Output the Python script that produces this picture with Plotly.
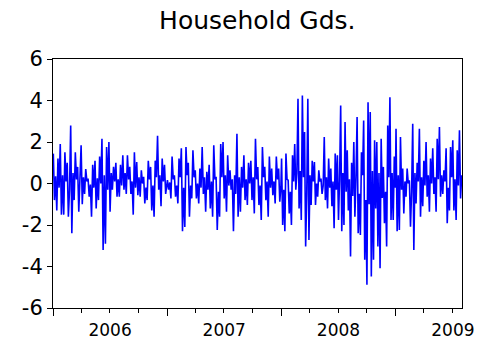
import pandas as pd
import plotly.graph_objects as go

title = "Household Gds."

y2006 = [
    1.44, -0.80, 0.35, -1.30, 1.20, -0.20, 1.90, -1.50, 0.40, -1.50, 1.50, 0.10,
    1.00, -1.60, -0.30, 2.80, -2.40, 0.50, -0.80, 1.50, 0.20, 0.80, -1.36, -0.10,
    1.84, -1.00, 0.30, -0.50, 0.70, 0.10, 0.24, -0.64, -0.05, -1.60, 0.90, -0.20,
    1.10, -1.20, 0.25, -0.80, 1.30, 0.00, 2.16, -3.20, 0.40, -2.90, 1.76, -0.30,
    2.00, -1.36, 0.50, -0.30, 0.80, 0.10, 1.00, -0.64, 0.20, -0.64, 0.90, -0.10,
    1.36, -0.30, 0.50, -0.50, 1.36, 0.20, 0.80, -0.50, 0.10, -1.50, 1.50, -0.20,
    1.04, -0.56, 0.30, -0.64, 0.64, 0.00, 0.32, -0.96, -0.20, -0.80, 1.10, 0.20,
    0.80, -1.30, -0.10, -1.60, 1.10, 0.30, 2.30, -0.30, 0.40, -1.10, 1.20, 0.10,
    0.90, -0.50, 0.00,
]

y2007 = [
    0.16, -0.30, 0.05, -0.72, 1.30, 0.20, 0.40, -0.64, -0.10, -0.96, 1.20, 0.30,
    1.70, -2.30, -0.20, -2.10, 1.76, 0.40, 1.00, -1.60, -0.10, -0.72, 1.60, 0.30,
    0.64, -0.72, 0.00, -0.96, 0.72, -0.20, 1.76, -0.50, 0.30, -1.36, 0.56, -0.30,
    0.90, -1.20, 0.10, -1.60, 1.84, 0.20, 0.32, -2.24, -0.40, -1.60, 1.90, 0.30,
    2.00, -0.72, 0.40, -1.36, 1.36, -0.10, 0.64, -0.30, 0.20, -2.30, 0.40, -0.50,
    2.40, -1.60, 0.30, -1.36, 0.80, -0.20, 1.36, -0.80, 0.20, -1.04, 1.00, 0.00,
    1.10, -0.80, 0.30, -1.44, 2.16, 0.20, 0.80, -1.04, -0.10, -1.76, 1.76, 0.30,
    0.80, -0.80, 0.10, -1.60, 1.30, -0.20, 0.72, -0.56, 0.10, -0.96, 1.30, 0.20,
    0.72, -0.88, -0.10,
]

y2008 = [
    1.20, -2.00, -0.30, -2.30, 1.44, 0.20, 0.16, -1.44, -0.40, -2.00, 1.36, 0.10,
    1.90, -0.30, 0.50, 4.08, -1.20, 0.60, -1.76, 4.24, 0.30, 2.48, -3.04, -0.50,
    4.08, -2.72, 0.40, -1.04, 1.10, 0.10, 1.04, -1.04, 0.00, -0.64, 0.64, 0.10,
    0.24, -0.50, -0.10, 2.24, -0.80, 0.30, -1.20, 1.20, -0.20, 0.72, -1.10, 0.10,
    -2.16, 1.44, -0.30, 1.36, -1.76, 0.20, 3.76, -2.30, 0.50, -2.00, 2.96, -0.40,
    1.60, -1.30, 0.20, -3.52, 1.00, -0.60, 2.00, -1.60, 0.30, 3.20, -2.40, -0.50,
    -2.48, 1.50, 0.40, 3.04, -3.68, -0.80, -4.88, 3.92, -1.00, 3.44, -4.48, 0.60,
    -3.68, 2.08, -1.20, 2.00, -3.04, 0.50, -4.08, 2.16, -0.70, 0.80, -1.92, -0.40,
    -3.04, 2.80, 0.30, 4.16, -1.76, 0.50, -1.76, 1.30, -0.20,
]

y2009 = [
    2.64, -2.30, 0.40, -2.24, 2.24, -0.30, 0.72, -1.44, 0.10, -0.64, 0.72, 0.00,
    0.16, -2.08, -0.40, 2.88, -3.20, 0.50, -0.96, 1.00, 0.10, 2.64, -1.60, 0.30,
    -1.10, 1.10, -0.10, 2.00, -0.64, 0.40, -1.36, 1.20, 0.00, 1.70, -0.50, 0.30,
    -1.36, 2.16, 0.20, 2.72, -0.64, 0.40, -0.50, 0.64, 0.10, 1.70, -1.92, -0.20,
    -1.30, 1.76, 0.30, 2.08, -1.30, 0.20, -1.76, 1.60, -0.10, 2.56, -0.72, 0.40,
]

year_spans = [
    ("2006-01-02", "2006-12-31", y2006),
    ("2007-01-02", "2007-12-31", y2007),
    ("2008-01-02", "2008-12-31", y2008),
    ("2009-01-02", "2009-07-31", y2009),
]

y_ticks = [-6, -4, -2, 0, 2, 4, 6]
y_ticktext = ["-6", "-4", "-2", "0", "2", "4", "6"]

dates = []
values = []
for start, end, vals in year_spans:
    dates.extend(pd.date_range(start, end, periods=len(vals)))
    values.extend(vals)

fig = go.Figure()
fig.add_trace(go.Scatter(
    x=dates, y=values, mode="lines",
    line=dict(color="#0000ff", width=1.6),
    showlegend=False, hoverinfo="skip",
))

fig.update_layout(
    width=481, height=341,
    margin=dict(l=53, r=19, t=59, b=33),
    paper_bgcolor="white", plot_bgcolor="white",
    font=dict(family="DejaVu Sans", color="black"),
    title=dict(text=title, x=0.535, xanchor="center", y=0.915, yanchor="bottom",
               font=dict(size=25, color="black")),
)

fig.update_xaxes(
    type="date",
    range=["2006-01-01", "2009-08-01"],
    tick0="2006-01-01", dtick="M12", tickformat="%Y",
    ticklabelmode="period",
    ticks="outside", ticklen=7, tickcolor="black", tickwidth=1,
    minor=dict(dtick="M3", ticks="outside", ticklen=4, tickcolor="black", tickwidth=1),
    showgrid=False, zeroline=False, automargin=False,
    showline=True, linecolor="black", linewidth=1, mirror=True,
    tickfont=dict(size=17, color="black"),
)

fig.update_yaxes(
    range=[-6, 6],
    tickmode="array", tickvals=y_ticks, ticktext=y_ticktext,
    ticks="outside", ticklen=5, tickcolor="black", tickwidth=1,
    showgrid=False, zeroline=False, automargin=False,
    showline=True, linecolor="black", linewidth=1, mirror=True,
    tickfont=dict(size=21, color="black"),
)

fig.write_html("out.html")
